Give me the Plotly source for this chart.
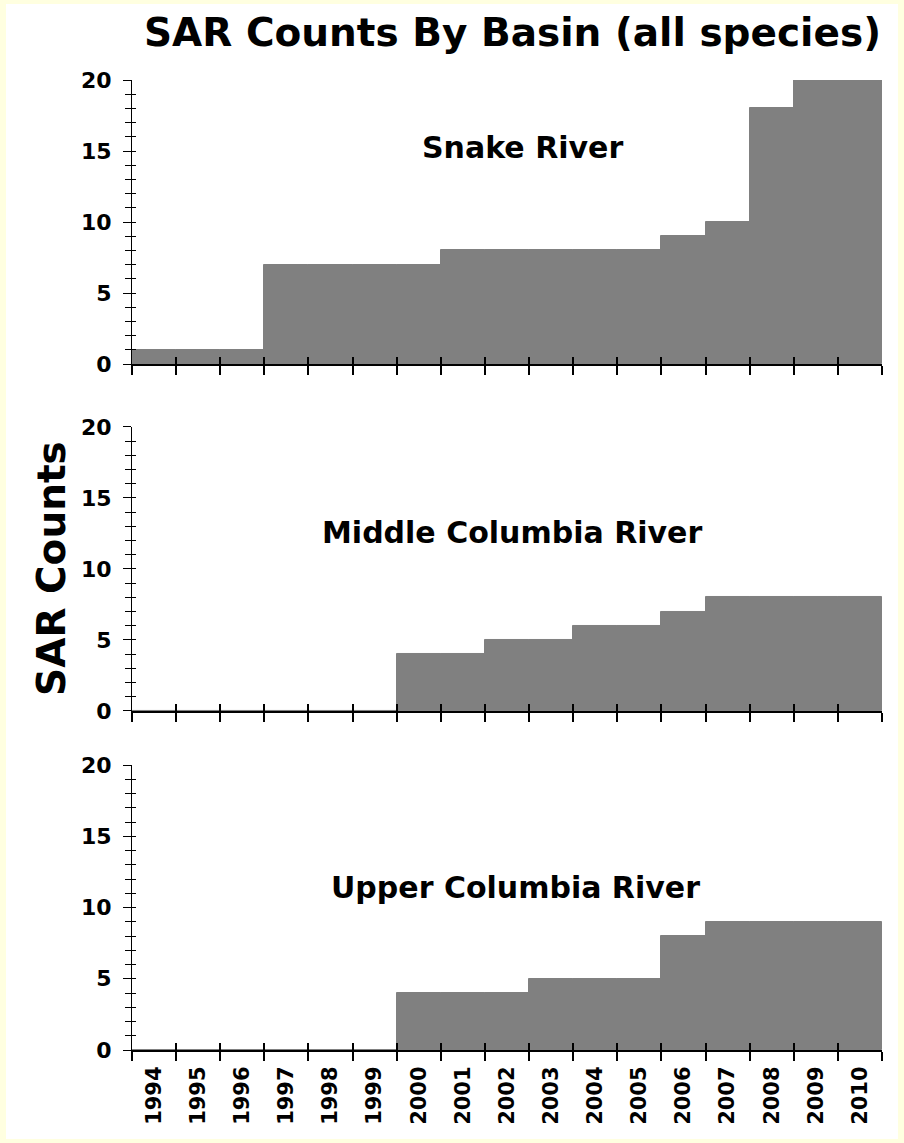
import plotly.graph_objects as go

# category labels (water years)
years = ['1994', '1995', '1996', '1997', '1998', '1999', '2000', '2001', '2002',
         '2003', '2004', '2005', '2006', '2007', '2008', '2009', '2010']

# SAR counts per basin
snake = [1, 1, 1, 7, 7, 7, 7, 8, 8, 8, 8, 8, 9, 10, 18, 20, 20]
middle = [0, 0, 0, 0, 0, 0, 4, 4, 5, 5, 6, 6, 7, 8, 8, 8, 8]
upper = [0, 0, 0, 0, 0, 0, 4, 4, 4, 5, 5, 5, 8, 9, 9, 9, 9]

basins = ['Snake River', 'Middle Columbia River', 'Upper Columbia River']
series = [snake, middle, upper]

FONT = 'DejaVu Sans'
GRAY = '#808080'

#--- panel geometry (paper coords)
domains = [(0.7072, 1.0), (0.3495, 0.6423), (0.0, 0.2938)]
label_pos = [(0.52, 0.930), (0.507, 0.534), (0.511, 0.168)]

fig = go.Figure()
layout = {}
annotations = []

for i, (name, vals) in enumerate(zip(basins, series)):
    n = i + 1
    xa = 'x' if n == 1 else 'x%d' % n
    ya = 'y' if n == 1 else 'y%d' % n
    xo, yo = 'x%d' % (n + 3), 'y%d' % (n + 3)

    fig.add_trace(go.Bar(x=years, y=vals, xaxis=xa, yaxis=ya, name=name,
                         marker=dict(color=GRAY, line=dict(color=GRAY, width=1))))
    # invisible copies so the overlay axes (inner half of crossing ticks) are drawn
    fig.add_trace(go.Bar(x=years, y=vals, xaxis=xo, yaxis=ya, opacity=0, hoverinfo='skip'))
    fig.add_trace(go.Bar(x=years, y=vals, xaxis=xa, yaxis=yo, opacity=0, hoverinfo='skip'))

    cat = dict(type='category', categoryarray=years, categoryorder='array',
               range=[-0.5, len(years) - 0.5], tickson='boundaries',
               showgrid=False, zeroline=False, fixedrange=True)
    layout['xaxis' if n == 1 else 'xaxis%d' % n] = dict(
        cat, domain=[0, 1], anchor=ya, ticks='outside', ticklen=9, tickwidth=2,
        tickcolor='black', showline=True, linecolor='black', linewidth=2,
        showticklabels=(n == 3), tickangle=-90, ticklabelstandoff=6,
        tickfont=dict(family=FONT, size=21, color='black', weight='bold'))
    layout['xaxis%d' % (n + 3)] = dict(
        cat, overlaying=xa, anchor=ya, ticks='inside', ticklen=7, tickwidth=2,
        tickcolor='black', showline=False, showticklabels=False)

    yb = dict(range=[0, 20], tick0=0, dtick=5, showgrid=False, zeroline=False, fixedrange=True)
    layout['yaxis' if n == 1 else 'yaxis%d' % n] = dict(
        yb, domain=list(domains[i]), anchor=xa, ticks='outside', ticklen=8, tickwidth=1,
        tickcolor='black', showline=True, linecolor='black', linewidth=1,
        minor=dict(dtick=1, ticks='outside', ticklen=6, tickwidth=1, tickcolor='black', showgrid=False),
        ticklabelstandoff=7,
        tickfont=dict(family=FONT, size=22, color='black', weight='bold'))
    layout['yaxis%d' % (n + 3)] = dict(
        yb, overlaying=ya, anchor=xa, ticks='inside', ticklen=4, tickwidth=1,
        tickcolor='black', showline=False, showticklabels=False,
        minor=dict(dtick=1, ticks='inside', ticklen=4, tickwidth=1, tickcolor='black', showgrid=False))

    annotations.append(dict(text=name, xref='paper', yref='paper', x=label_pos[i][0], y=label_pos[i][1],
                            xanchor='center', yanchor='middle', showarrow=False,
                            font=dict(family=FONT, size=30, color='black', weight='bold')))

annotations.append(dict(text='SAR Counts By Basin (all species)', xref='paper', yref='paper',
                        x=0.507, y=1.0485, xanchor='center', yanchor='middle', showarrow=False,
                        font=dict(family=FONT, size=39, color='black', weight='bold')))
annotations.append(dict(text='SAR Counts', xref='paper', yref='paper', x=-0.1067, y=0.497,
                        xanchor='center', yanchor='middle', textangle=-90, showarrow=False,
                        font=dict(family=FONT, size=39, color='black', weight='bold')))

fig.update_layout(
    width=904, height=1143, autosize=False,
    margin=dict(l=132, r=22, t=80, b=93),
    paper_bgcolor='#FFFFE0', plot_bgcolor='white',
    bargap=0, showlegend=False,
    annotations=annotations,
    shapes=[dict(type='rect', xref='paper', yref='paper', x0=-0.168, x1=1.0213,
                 y0=-0.0918, y1=1.0784, fillcolor='white', line=dict(width=0), layer='below')],
    **layout)

# drop the browser's default body margin so the figure sits at the page origin
fig.write_html("out.html", config={'displayModeBar': False},
               post_script="document.body.style.margin = '0';")
